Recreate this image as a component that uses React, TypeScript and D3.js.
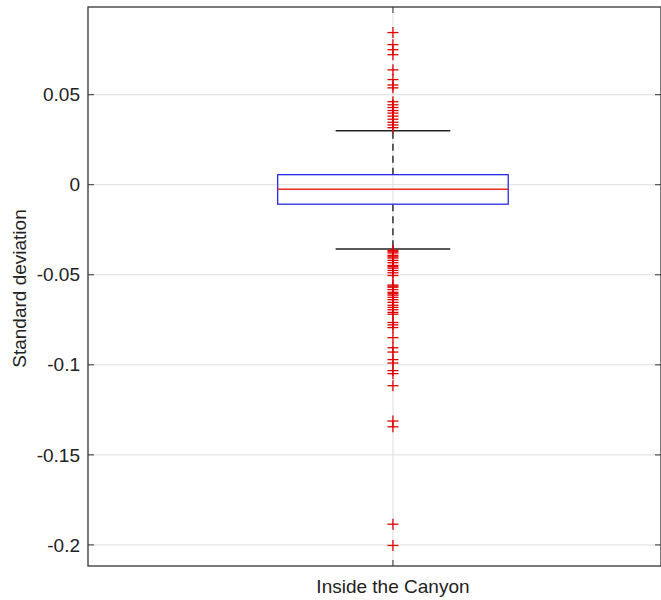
import React from "react";
import * as d3 from "d3";

const categories = ["Inside the Canyon"];
const yTicks = [0.05, 0, -0.05, -0.1, -0.15, -0.2];
const yTickLabels = ["0.05", "0", "-0.05", "-0.1", "-0.15", "-0.2"];
// box statistics
const q1 = [-0.0108];
const median = [-0.0025];
const q3 = [0.0056];
const whiskerLow = [-0.0357];
const whiskerHigh = [0.0300];
const outliers = [
  0.0845, 0.0778, 0.0750, 0.0722, 0.0638, 0.0584, 0.0554, 0.0538,
  0.0461, 0.0444, 0.0429, 0.0412, 0.0398, 0.0381, 0.0364, 0.0347, 0.0332, 0.0317,
  -0.0364, -0.0372, -0.0379, -0.0392, -0.0400, -0.0407, -0.0420, -0.0433, -0.0448,
  -0.0455, -0.0463, -0.0476, -0.0489, -0.0504, -0.0557, -0.0563, -0.0569, -0.0582,
  -0.0597, -0.0605, -0.0613, -0.0625, -0.0638, -0.0653, -0.0669, -0.0681, -0.0694,
  -0.0709, -0.0719, -0.0765, -0.0778, -0.0793, -0.0849, -0.0905, -0.0929, -0.0971,
  -0.0990, -0.1032, -0.1049, -0.1116, -0.1312, -0.1344, -0.1885, -0.2003,
];

const W = 661;
const H = 600;
const left = 88;
const right = 661;
const top = 7;
const bottom = 566;

export default function App() {
  const y = d3.scaleLinear().domain([-0.2117, 0.0987]).range([bottom, top]);
  const x = d3.scaleLinear().domain([0.5, 1.4395]).range([left, right]);
  const boxHalf = 0.189;
  const capHalf = 0.094;
  const xc = x(1);
  const font = "'Liberation Sans', Arial, Helvetica, sans-serif";
  const tickLen = 6;
  return (
    <svg width={W} height={H} style={{ position: "absolute", left: 0, top: 0 }}>
      <rect x={0} y={0} width={W} height={H} fill="#fff" />
      {/* grid */}
      {yTicks.map((t) => (
        <line key={"g" + t} x1={left} x2={right} y1={y(t)} y2={y(t)} stroke="#dedede" strokeWidth={1} />
      ))}
      <line x1={xc} x2={xc} y1={top} y2={bottom} stroke="#dedede" strokeWidth={1} />
      {/* whiskers */}
      <line x1={xc} x2={xc} y1={y(q3[0])} y2={y(whiskerHigh[0])} stroke="#000" strokeWidth={1.2} strokeDasharray="7,5" />
      <line x1={xc} x2={xc} y1={y(q1[0])} y2={y(whiskerLow[0])} stroke="#000" strokeWidth={1.2} strokeDasharray="7,5" />
      <line x1={x(1 - capHalf)} x2={x(1 + capHalf)} y1={y(whiskerHigh[0])} y2={y(whiskerHigh[0])} stroke="#222" strokeWidth={1.6} />
      <line x1={x(1 - capHalf)} x2={x(1 + capHalf)} y1={y(whiskerLow[0])} y2={y(whiskerLow[0])} stroke="#222" strokeWidth={1.6} />
      {/* box */}
      <rect x={x(1 - boxHalf)} y={y(q3[0])} width={x(1 + boxHalf) - x(1 - boxHalf)} height={y(q1[0]) - y(q3[0])} fill="none" stroke="#2a2ae6" strokeWidth={1.3} />
      <line x1={x(1 - boxHalf)} x2={x(1 + boxHalf)} y1={y(median[0])} y2={y(median[0])} stroke="#f02828" strokeWidth={1.5} />
      {/* outliers */}
      {outliers.map((v, i) => (
        <g key={"o" + i} stroke="#e00000" strokeWidth={1.3}>
          <line x1={xc - 5.5} x2={xc + 5.5} y1={y(v)} y2={y(v)} />
          <line x1={xc} x2={xc} y1={y(v) - 5.5} y2={y(v) + 5.5} />
        </g>
      ))}
      {/* frame */}
      <rect x={left} y={top} width={right - left} height={bottom - top} fill="none" stroke="#333" strokeWidth={1.3} />
      {yTicks.map((t) => (
        <g key={"t" + t} stroke="#333" strokeWidth={1}>
          <line x1={left} x2={left + tickLen} y1={y(t)} y2={y(t)} />
          <line x1={right - tickLen} x2={right} y1={y(t)} y2={y(t)} />
        </g>
      ))}
      <line x1={xc} x2={xc} y1={bottom} y2={bottom - tickLen} stroke="#333" />
      <line x1={xc} x2={xc} y1={top} y2={top + tickLen} stroke="#333" />
      {yTicks.map((t, i) => (
        <text key={"l" + t} x={80} y={y(t)} dy="0.35em" textAnchor="end" fontFamily={font} fontSize={19} fill="#222">
          {yTickLabels[i]}
        </text>
      ))}
      {categories.map((c, i) => (
        <text key={c} x={x(i + 1)} y={593} textAnchor="middle" fontFamily={font} fontSize={19} fill="#222">
          {c}
        </text>
      ))}
      <text transform={`translate(26, ${(top + bottom) / 2 + 2}) rotate(-90)`} textAnchor="middle" fontFamily={font} fontSize={19} fill="#222">
        Standard deviation
      </text>
    </svg>
  );
}
